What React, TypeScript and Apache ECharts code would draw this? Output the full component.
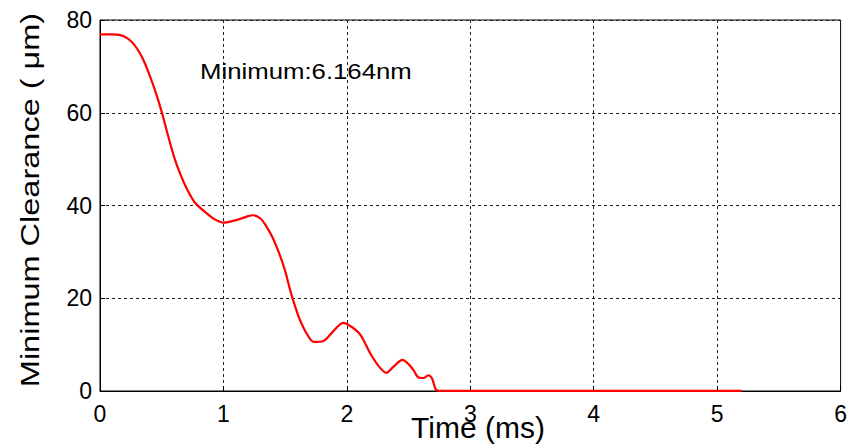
import React, { useEffect, useRef } from "react";
import * as echarts from "echarts";

// Time (ms) and minimum clearance (µm) samples of the squeeze-out curve
const timeMs = [
  0, 0.1, 0.16, 0.22, 0.27, 0.32, 0.36, 0.4, 0.45, 0.5, 0.55, 0.6, 0.65, 0.7,
  0.77, 0.865, 0.93, 1.0, 1.11, 1.2, 1.24, 1.3, 1.35, 1.4, 1.45, 1.5, 1.54,
  1.58, 1.62, 1.67, 1.73, 1.81, 1.88, 1.97, 2.04, 2.11, 2.19, 2.26, 2.32, 2.38,
  2.45, 2.5, 2.54, 2.58, 2.62, 2.66, 2.69, 2.72, 2.75, 5.2,
];
const clearanceUm = [
  76.9, 76.9, 76.8, 76.1, 74.9, 73.0, 70.9, 68.2, 64.5, 60.2, 55.2, 50.5, 46.8,
  43.8, 40.6, 38.3, 37.0, 36.3, 36.9, 37.7, 37.9, 37.2, 35.4, 33.0, 29.8, 25.9,
  21.8, 18.3, 15.3, 12.6, 10.6, 10.8, 12.6, 14.7, 13.8, 12.1, 8.1, 5.3, 3.9,
  5.3, 6.7, 5.8, 4.5, 2.9, 2.8, 3.4, 2.7, 0.35, 0.006164, 0.006164,
];

const xTicks = [0, 1, 2, 3, 4, 5, 6];
const yTicks = [0, 20, 40, 60, 80];

const minimumLabel = "Minimum:6.164nm";
const xTitle = "Time (ms)";
const yTitle = "Minimum Clearance ( μm)";

const FONT = "'Liberation Sans', Arial, Helvetica, sans-serif";

export default function App() {
  const ref = useRef<HTMLDivElement>(null);

  useEffect(() => {
    if (!ref.current) return;
    const chart = echarts.init(ref.current, undefined, { renderer: "svg" });

    const gridLine = {
      show: true,
      lineStyle: { color: "#222", width: 1, type: [3, 3] as number[] },
    };

    chart.setOption({
      animation: false,
      backgroundColor: "#fff",
      grid: {
        left: 100,
        top: 20,
        width: 741,
        height: 371,
        show: true,
        borderColor: "#000",
        borderWidth: 1,
        backgroundColor: "transparent",
      },
      xAxis: {
        type: "value",
        min: xTicks[0],
        max: xTicks[xTicks.length - 1],
        interval: 1,
        axisLine: { show: true, onZero: false, lineStyle: { color: "#000", width: 1 } },
        axisTick: { show: true, inside: true, length: 5, lineStyle: { color: "#000" } },
        axisLabel: {
          color: "#000",
          fontFamily: FONT,
          fontSize: 23,
          margin: 11,
        },
        splitLine: gridLine,
      },
      yAxis: {
        type: "value",
        min: yTicks[0],
        max: yTicks[yTicks.length - 1],
        interval: 20,
        axisLine: { show: true, onZero: false, lineStyle: { color: "#000", width: 1 } },
        axisTick: { show: true, inside: true, length: 5, lineStyle: { color: "#000" } },
        axisLabel: {
          color: "#000",
          fontFamily: FONT,
          fontSize: 23,
          margin: 8,
        },
        splitLine: gridLine,
      },
      series: [
        {
          type: "line",
          data: timeMs.map((t, i) => [t, clearanceUm[i]]),
          showSymbol: false,
          smooth: 0.3,
          clip: false,
          lineStyle: { color: "#ff0000", width: 2.2 },
          z: 3,
        },
      ],
      graphic: [
        {
          type: "text",
          x: 200,
          y: 71,
          scaleX: 1.12,
          style: {
            text: minimumLabel,
            font: `23px ${FONT}`,
            fill: "#000",
            align: "left",
            verticalAlign: "middle",
          },
          z: 10,
        },
        {
          type: "text",
          x: 478,
          y: 427,
          style: {
            text: xTitle,
            font: `30px ${FONT}`,
            fill: "#000",
            align: "center",
            verticalAlign: "middle",
          },
          z: 10,
        },
        {
          type: "text",
          x: 30,
          y: 200,
          rotation: Math.PI / 2,
          scaleX: 1.3,
          style: {
            text: yTitle,
            font: `25px ${FONT}`,
            fill: "#000",
            align: "center",
            verticalAlign: "middle",
          },
          z: 10,
        },
      ],
    });

    return () => chart.dispose();
  }, []);

  return (
    <div
      ref={ref}
      style={{ position: "fixed", left: 0, top: 0, width: 850, height: 448 }}
    />
  );
}
